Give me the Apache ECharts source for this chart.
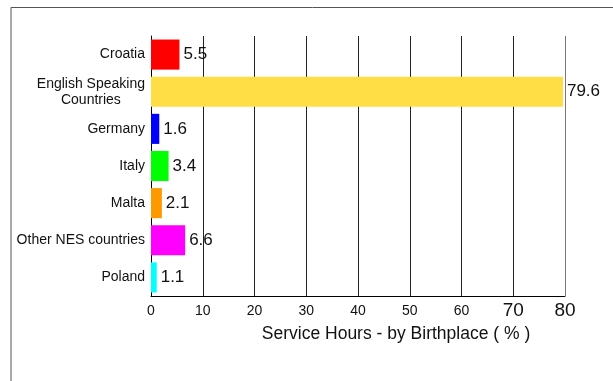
<!DOCTYPE html>
<html>
<head>
<meta charset="utf-8">
<script src="https://cdn.jsdelivr.net/npm/echarts@6/dist/echarts.min.js"></script>
<style>
  html, body { margin: 0; padding: 0; background: #fff; }
  #chart { width: 613px; height: 381px; }
</style>
</head>
<body>
<div id="chart"></div>
<script>
// 数据
var categories = ['Croatia', 'English Speaking\nCountries', 'Germany', 'Italy', 'Malta', 'Other NES countries', 'Poland'];
var values = [5.5, 79.6, 1.6, 3.4, 2.1, 6.6, 1.1];
var xTicks = [0, 10, 20, 30, 40, 50, 60, 70, 80];
var axisTitle = 'Service Hours - by Birthplace ( % )';

var barColors = ['#ff0000', '#ffdd44', '#0000ff', '#00ff00', '#ff9900', '#ff00ff', '#00ffff'];
var font = 'Liberation Sans, Arial, sans-serif';

var myChart = echarts.init(document.getElementById('chart'));

var seriesData = [];
for (var i = 0; i < values.length; i++) {
  seriesData.push({ value: values[i], itemStyle: { color: barColors[i] } });
}

var option = {
  backgroundColor: '#fff',
  animation: false,
  textStyle: { fontFamily: font },
  grid: { left: 151, right: 48, top: 36, bottom: 85 },
  // 外框
  graphic: [{
    type: 'polyline',
    shape: { points: [[11, 400], [11, 7.5], [620, 7.5]] },
    style: { stroke: '#555', lineWidth: 1, fill: null }
  }],
  xAxis: {
    type: 'value',
    min: xTicks[0],
    max: xTicks[xTicks.length - 1],
    interval: 10,
    name: axisTitle,
    nameLocation: 'middle',
    nameGap: 24,
    nameTextStyle: { fontSize: 17.5, color: '#111', padding: [0, 0, 0, 76], verticalAlign: 'top' },
    axisLine: { show: true, lineStyle: { color: '#000', width: 1 } },
    axisTick: { show: false },
    splitLine: {
      show: true,
      lineStyle: { color: ['#222', '#222', '#222', '#222', '#222', '#222', '#222', '#222', '#777'], width: 1 }
    },
    axisLabel: {
      margin: 5,
      color: '#111',
      formatter: function (v) {
        return v >= 70 ? '{big|' + v + '}' : '{small|' + v + '}';
      },
      rich: {
        small: { fontSize: 14, lineHeight: 20, color: '#111' },
        big: { fontSize: 19, lineHeight: 20, color: '#111' }
      }
    }
  },
  yAxis: {
    type: 'category',
    inverse: true,
    data: categories,
    axisLine: { show: true, lineStyle: { color: '#000', width: 1 } },
    axisTick: { show: false },
    axisLabel: {
      margin: 6,
      fontSize: 14,
      color: '#111',
      formatter: function (v) {
        if (v.indexOf('\n') >= 0) {
          var parts = v.split('\n');
          return '{a|' + parts[0] + '}\n{c|' + parts[1] + '}';
        }
        return v;
      },
      rich: {
        a: { fontSize: 14, color: '#111', lineHeight: 16 },
        c: { fontSize: 14, color: '#111', lineHeight: 16, align: 'center' }
      }
    }
  },
  series: [{
    type: 'bar',
    data: seriesData,
    barCategoryGap: '19%',
    label: {
      show: true,
      position: 'right',
      distance: 4,
      fontSize: 17,
      color: '#111'
    }
  }]
};
myChart.setOption(option);
</script>
</body>
</html>
